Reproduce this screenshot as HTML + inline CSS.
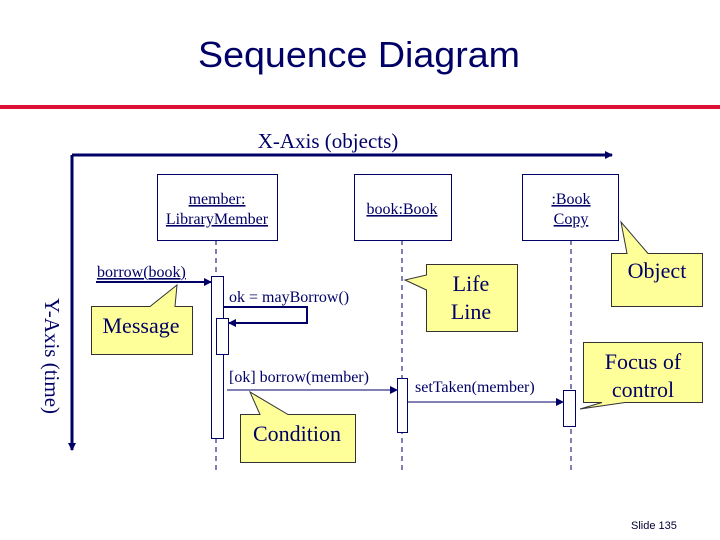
<!DOCTYPE html>
<html><head><meta charset="utf-8"><style>
html,body{margin:0;padding:0;background:#fff;}
svg{display:block;}
.s{font-family:"Liberation Serif",serif;fill:#000066;}
</style></head><body>
<svg width="720" height="540" viewBox="0 0 720 540" xmlns="http://www.w3.org/2000/svg">
<defs>
<marker id="a" markerWidth="8" markerHeight="8" refX="7" refY="4" orient="auto" markerUnits="userSpaceOnUse"><path d="M0,0 L8,4 L0,8 z" fill="#000066"/></marker>
</defs>
<text x="359" y="67" text-anchor="middle" font-family="Liberation Sans,sans-serif" font-size="36" fill="#000066" textLength="322" lengthAdjust="spacingAndGlyphs">Sequence Diagram</text>
<rect x="0" y="105" width="720" height="4" fill="#dd1133"/>
<text class="s" x="328" y="148" text-anchor="middle" font-size="21">X-Axis (objects)</text>
<line x1="72" y1="155" x2="612" y2="155" stroke="#000066" stroke-width="3" marker-end="url(#a)"/>
<line x1="72" y1="155" x2="72" y2="450" stroke="#000066" stroke-width="3" marker-end="url(#a)"/>
<text class="s" font-size="21" transform="translate(45,356) rotate(90)" text-anchor="middle">Y-Axis (time)</text>
<g fill="none" stroke="#000066" stroke-width="1" stroke-dasharray="5,4">
<line x1="216" y1="240" x2="216" y2="470"/>
<line x1="402" y1="240" x2="402" y2="470"/>
<line x1="571" y1="240" x2="571" y2="470"/>
</g>
<g fill="#fff" stroke="#000066" stroke-width="1">
<rect x="157.5" y="174.5" width="120" height="66"/>
<rect x="354.5" y="174.5" width="97" height="66"/>
<rect x="522.5" y="174.5" width="96" height="66"/>
<rect x="211.5" y="276.5" width="12" height="162"/>
<rect x="216.5" y="318.5" width="12" height="36"/>
<rect x="397.5" y="378.5" width="10" height="54"/>
<rect x="563.5" y="390.5" width="12" height="36"/>
</g>
<g class="s" font-size="16" text-anchor="middle" text-decoration="underline">
<text x="217" y="204">member:</text>
<text x="217" y="224">LibraryMember</text>
<text x="402" y="214">book:Book</text>
<text x="571" y="204">:Book</text>
<text x="571" y="224">Copy</text>
</g>
<g stroke="#000066" fill="none">
<line x1="96" y1="282" x2="211" y2="282" stroke-width="2" marker-end="url(#a)"/>
<polyline points="223,307 307,307 307,323 229,323" stroke-width="2" marker-end="url(#a)"/>
<line x1="227" y1="390" x2="397" y2="390" stroke-width="1" marker-end="url(#a)"/>
<line x1="407" y1="402" x2="563" y2="402" stroke-width="1" marker-end="url(#a)"/>
</g>
<g class="s" font-size="16">
<text x="97" y="277" text-decoration="underline">borrow(book)</text>
<text x="229" y="302">ok = mayBorrow()</text>
<text x="229" y="382">[ok] borrow(member)</text>
<text x="415" y="392">setTaken(member)</text>
</g>
<g fill="#ffff99" stroke="#333" stroke-width="1">
<path d="M91.5,306.5 L150,306.5 L177,285 L175,306.5 L192.5,306.5 L192.5,354.5 L91.5,354.5 Z"/>
<path d="M240.5,414.5 L260,414.5 L250,392 L288,414.5 L355.5,414.5 L355.5,462.5 L240.5,462.5 Z"/>
<path d="M426.5,264.5 L517.5,264.5 L517.5,331.5 L426.5,331.5 L426.5,290 L405,280 L426.5,275 Z"/>
<path d="M611.5,253.5 L627,253.5 L621,222 L648,253.5 L702.5,253.5 L702.5,306.5 L611.5,306.5 Z"/>
<path d="M583.5,342.5 L702.5,342.5 L702.5,402.5 L625,402.5 L580,409 L602,402.5 L583.5,402.5 Z"/>
</g>
<g class="s" font-size="22" text-anchor="middle">
<text x="141" y="333">Message</text>
<text x="297" y="441">Condition</text>
<text x="471" y="291">Life</text>
<text x="471" y="319">Line</text>
<text x="657" y="278">Object</text>
<text x="643" y="369">Focus of</text>
<text x="643" y="397">control</text>
</g>
<text x="631" y="529" font-family="Liberation Sans,sans-serif" font-size="11" fill="#000033">Slide  135</text>
</svg>
</body></html>
